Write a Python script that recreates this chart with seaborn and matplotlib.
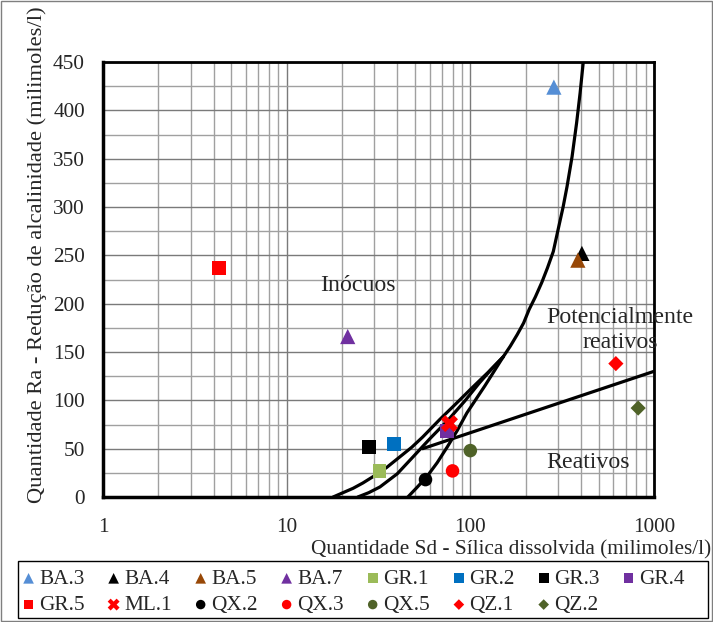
import numpy as np
import pandas as pd
import matplotlib
matplotlib.use('Agg')
import matplotlib.pyplot as plt
import seaborn as sns
from matplotlib.ticker import LogLocator, MultipleLocator, NullFormatter
from matplotlib.patches import Rectangle

# amostras (Sd, Ra)
amostras = ['BA.3', 'BA.4', 'BA.5', 'BA.7', 'GR.1', 'GR.2', 'GR.3', 'GR.4',
            'GR.5', 'ML.1', 'QX.2', 'QX.3', 'QX.5', 'QZ.1', 'QZ.2']
sd = [285, 405, 385, 21.5, 32, 38.5, 28, 75, 4.3, 77, 57, 80, 100, 620, 820]
ra = [424, 252, 245, 166, 27, 55, 52, 68, 237, 76, 18, 27, 48, 138, 92]

# curvas de limite (ASTM C289)
curva1_sd = [17.9, 20, 23, 26, 29.5, 35, 41, 48, 55, 68, 83, 101, 125, 151,
             165, 180, 195, 209, 226, 245, 263, 283, 300, 320, 336, 358, 379, 396, 412]
curva1_ra = [0, 4, 9, 14.5, 21, 30.5, 41, 51.5, 62, 80, 96, 112, 129, 145,
             156, 168, 180, 194, 207, 222, 237, 254, 276, 300, 321, 352, 387, 418, 450]
curva2_sd = [24.4, 28, 32.2, 40, 48.7, 60, 76, 93, 112, 130, 151]
curva2_ra = [0, 4.5, 10.4, 24, 41.4, 60, 80, 99, 118, 132, 145]
curva3_sd = [45.7, 51, 57.8, 66, 74.9, 85, 95.8, 120, 151]
curva3_ra = [0, 9.5, 20.7, 35.5, 51.8, 69, 87, 115, 145]
reta_sd = [55, 1000]
reta_ra = [50, 130]

cores = ['#558ED5', '#000000', '#984807', '#7030A0', '#9BBB59', '#0070C0', '#000000',
         '#7030A0', '#FF0000', '#FF0000', '#000000', '#FF0000', '#4F6228', '#FF0000', '#4F6228']
marcadores = ['^', '^', '^', '^', 's', 's', 's', 's', 's', 'X', 'o', 'o', 'o', 'D', 'D']
tamanhos = {'^': 120, 's': 100, 'X': 150, 'o': 95, 'D': 60}

sns.set_style('white')
plt.rcParams['font.family'] = ['Liberation Serif', 'DejaVu Serif']
plt.rcParams['font.size'] = 15.3

fig = plt.figure(figsize=(7.13, 6.22), dpi=100)
ax = fig.add_axes([103 / 713, 125 / 622, 551 / 713, 435 / 622])

for cx, cy in [(curva1_sd, curva1_ra), (curva2_sd, curva2_ra), (curva3_sd, curva3_ra), (reta_sd, reta_ra)]:
    sns.lineplot(x=cx, y=cy, sort=False, estimator=None, color='black', lw=2.3, ax=ax, zorder=3)

for nome, x, y, c, m in zip(amostras, sd, ra, cores, marcadores):
    sns.scatterplot(x=[x], y=[y], marker=m, color=c, s=tamanhos[m], edgecolor='none',
                    label=nome, ax=ax, zorder=4)

ax.set_xscale('log')
ax.set_xlim(1, 1000)
ax.set_ylim(0, 450)
ax.set_xticks([1, 10, 100, 1000])
ax.set_xticklabels(['1', '10', '100', '1000'])
ax.xaxis.set_minor_locator(LogLocator(base=10, subs=np.arange(2, 10)))
ax.xaxis.set_minor_formatter(NullFormatter())
ax.yaxis.set_major_locator(MultipleLocator(50))
ax.yaxis.set_minor_locator(MultipleLocator(25))

ax.grid(True, which='major', color='#7a7a7a', lw=1)
ax.grid(True, which='minor', color='#a0a0a0', lw=1)
ax.set_axisbelow(True)
ax.tick_params(axis='both', which='major', direction='out', length=5, width=1.2, color='black')
ax.tick_params(axis='x', which='major', pad=10)
ax.tick_params(axis='y', which='major', pad=8)
ax.tick_params(which='minor', length=0)
for sp in ax.spines.values():
    sp.set_color('black')
    sp.set_linewidth(2)
ax.spines['left'].set_linewidth(2.5)
ax.spines['bottom'].set_linewidth(2.5)
ax.set_xlabel('')
ax.set_ylabel('')

ax.text(24.4, 219, 'Inócuos', ha='center', va='center', fontsize=17.2)
ax.text(652, 173, 'Potencialmente\nreativos', ha='center', va='center', linespacing=1.25,
        fontsize=17.2, clip_on=False)
ax.text(437, 36, 'Reativos', ha='center', va='center', fontsize=17.2)

fig.text(711 / 713, 1 - 550 / 622, 'Quantidade Sd - Sílica dissolvida (milimoles/l)', ha='right', va='center')
fig.text(37 / 713, 1 - 255 / 622, 'Quantidade Ra - Redução de alcalinidade (milimoles/l)',
         rotation=90, ha='center', va='center', fontsize=16.2)

# ordem por linhas na legenda (matplotlib preenche por colunas)
handles, labels = ax.get_legend_handles_labels()
ax.get_legend().remove()
ordem = []
for i in range(8):
    ordem.append(i)
    if i + 8 < len(handles):
        ordem.append(i + 8)
leg = fig.legend([handles[i] for i in ordem], [labels[i] for i in ordem], ncol=8, loc='upper left',
                 bbox_to_anchor=(19 / 713, 1 - 571 / 622, 670 / 713, 0.01), mode='expand',
                 borderaxespad=0, markerscale=0.7, handlelength=0.5, handletextpad=0.25,
                 columnspacing=0.5, labelspacing=0.3, borderpad=0.2, frameon=False)
fig.patches.append(Rectangle((18 / 713, 1 - 618 / 622), 690 / 713, 57 / 622, transform=fig.transFigure,
                             fill=False, edgecolor='black', lw=1))

fig.patches.append(Rectangle((0.001, 0.001), 0.998, 0.998, transform=fig.transFigure,
                             fill=False, edgecolor='#7f7f7f', lw=1))

fig.savefig('out.png', dpi=100)
